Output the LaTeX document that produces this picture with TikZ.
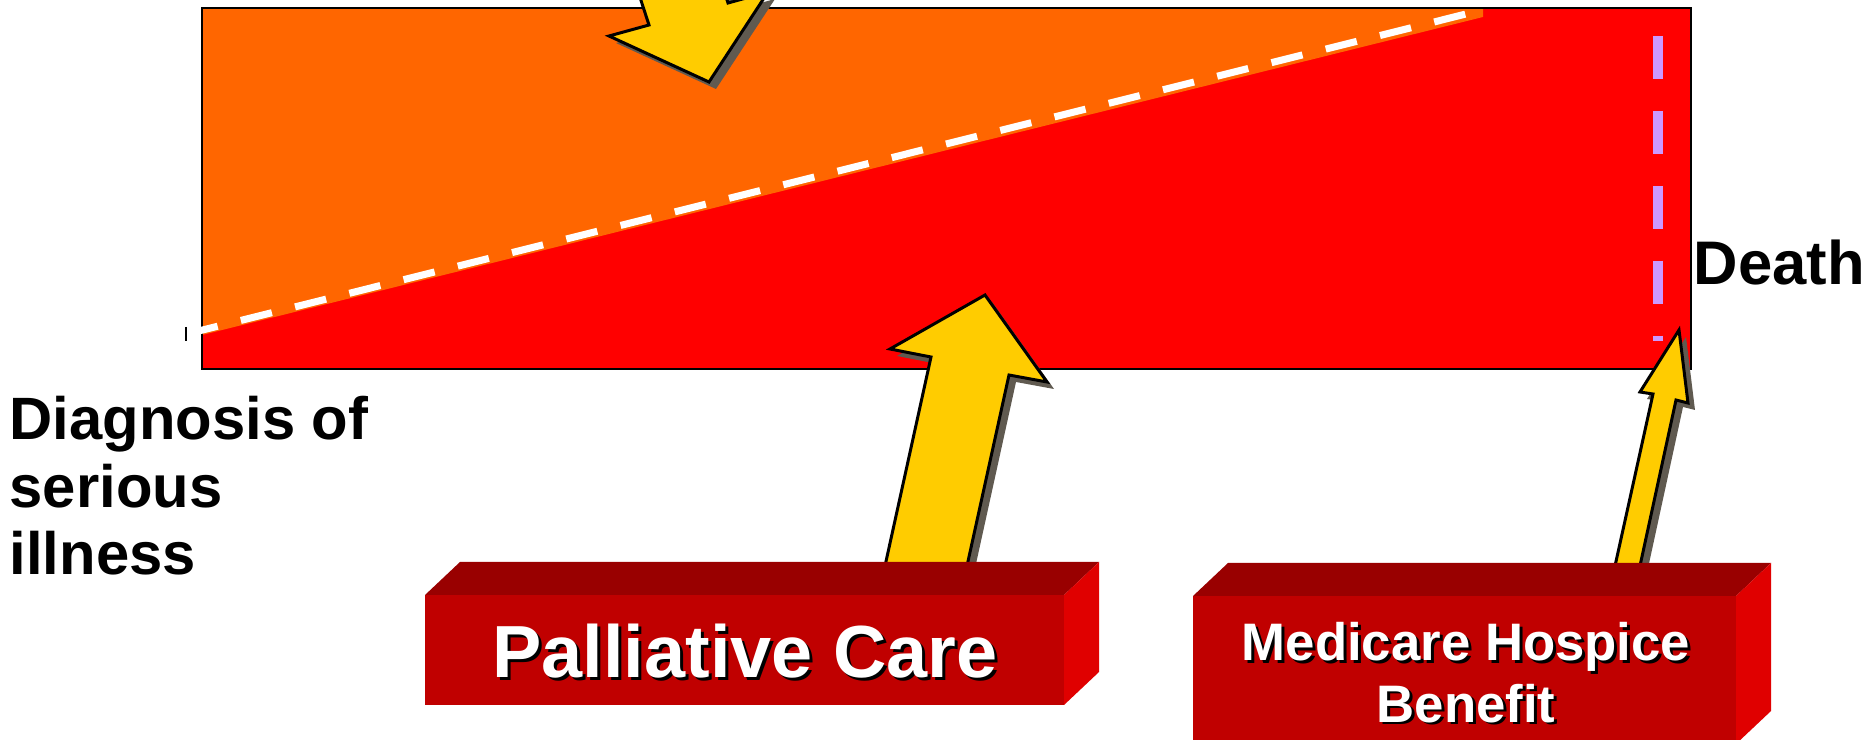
\documentclass[tikz,border=0pt]{standalone}
\usepackage{fontspec}
\setmainfont{Liberation Sans}
\usepackage{tikz}
\usetikzlibrary{positioning}
\definecolor{stageorange}{RGB}{255,102,0}
\definecolor{stagered}{RGB}{255,0,0}
\definecolor{deathlilac}{RGB}{204,153,255}
\definecolor{arrowgold}{RGB}{255,204,0}
\definecolor{shadowgray}{RGB}{96,90,80}
\definecolor{slabfront}{RGB}{192,0,0}
\definecolor{slabtop}{RGB}{153,0,0}
\definecolor{slabside}{RGB}{224,0,0}
\tikzset{
  timeline/.style={draw=black, line width=0.5pt},
  cureline/.style={draw=white, line width=2pt, dash pattern=on 9.1pt off 6.8pt},
  deathline/.style={draw=deathlilac, line width=2.9pt, dash pattern=on 12.2pt off 9.1pt},
  arrowshade/.style={fill=shadowgray, shift={(7,7)}},
  arrowbody/.style={fill=arrowgold, draw=black, line width=0.85pt},
  sidelabel/.style={inner sep=0pt, align=left,
    font=\fontsize{17}{19.2}\selectfont\bfseries},
  slabtext/.style={inner sep=0pt, align=center, text=white},
  slabshade/.style={slabtext, text=black},
}

\begin{document}
\begin{tikzpicture}[x=0.01cm, y=-0.01cm]
  \clip (0,0) rectangle (1875,740);

  \fill[stagered] (202,8) rectangle (1691,369);
  \fill[stageorange] (202,8) -- (1483,8) -- (1483,17) -- (202,335) -- cycle;
  \draw[timeline] (202,8) rectangle (1691,369);
  \draw[cureline] (186.6,334) -- (1470,13);
  \draw[deathline] (1658,36) -- (1658,341);
  \draw[line width=0.4pt] (186,327) -- (186,341);

  \foreach \s in {arrowshade, arrowbody} {
    \path[\s] (618,-70) -- (649,25) -- (609,36) -- (709,82)
      -- (768,-8) -- (728,3) -- (705,-70) -- cycle;
    \path[\s] (883,575) -- (931,357) -- (890,349) -- (985,295)
      -- (1047,382) -- (1009,375) -- (965,575) -- cycle;
    \path[\s] (1613,575) -- (1653,394) -- (1640,392) -- (1679,330)
      -- (1688,403) -- (1676,400) -- (1638,575) -- cycle;
  }

  \foreach \l/\t/\r/\b in {425/595/1064/705, 1193/596/1736/744} {
    \fill[slabfront] (\l,\t) rectangle (\r,\b);
    \fill[slabtop] (\l,\t) -- ++(35,-33) -- ++(\r-\l,0) -- ++(-35,33) -- cycle;
    \fill[slabside] (\r,\t) -- ++(35,-33) -- ++(0,\b-\t) -- ++(-35,33) -- cycle;
  }

  \node[sidelabel, anchor=base west] (diagnosis) at (9,575)
    {Diagnosis of\\serious\\illness};
  \node[sidelabel, anchor=base west, font=\fontsize{17.5}{20}\selectfont\bfseries]
    (death) at (1693,285) {Death};

  \node[slabshade, anchor=base, font=\fontsize{21}{25}\selectfont\bfseries]
    (pc-shade) at (748,681) {Palliative Care};
  \node[slabtext, anchor=base, font=\fontsize{21}{25}\selectfont\bfseries]
    (pc) at ([shift={(-3,-3)}]pc-shade.base) {Palliative Care};

  \node[slabshade, anchor=base, font=\fontsize{15}{17.6}\selectfont\bfseries]
    (mhb-shade) at (1469,725) {Medicare Hospice\\Benefit};
  \node[slabtext, anchor=base, font=\fontsize{15}{17.6}\selectfont\bfseries]
    (mhb) at ([shift={(-3,-3)}]mhb-shade.base) {Medicare Hospice\\Benefit};
\end{tikzpicture}
\end{document}
